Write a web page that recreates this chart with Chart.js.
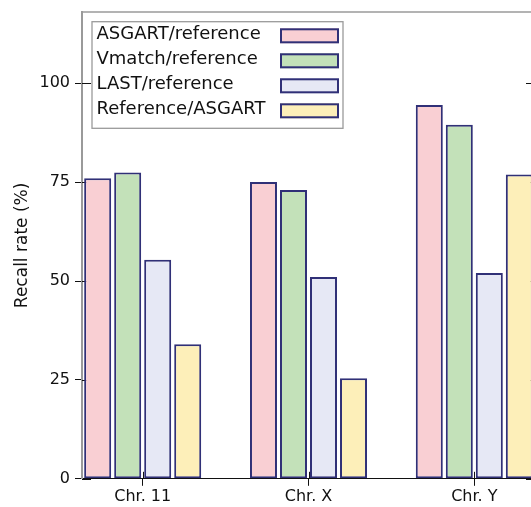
<!DOCTYPE html>
<html>
<head>
<meta charset="utf-8">
<script src="https://cdn.jsdelivr.net/npm/chart.js@4.4.0/dist/chart.umd.min.js"></script>
<style>
  html, body { margin: 0; padding: 0; background: #fff; overflow: hidden; }
  #wrap { width: 560px; height: 507px; }
</style>
</head>
<body>
<div id="wrap"><canvas id="chart" width="560" height="507"></canvas></div>
<script>
// -- Data -----------------------------------------------------------------

const categories = ['Chr. 11', 'Chr. X', 'Chr. Y'];
const seriesNames = ['ASGART/reference', 'Vmatch/reference', 'LAST/reference', 'Reference/ASGART'];
const asgartRef = [76.0, 75.0, 94.5];
const vmatchRef = [77.4, 73.0, 89.5];
const lastRef = [55.4, 51.0, 52.0];
const refAsgart = [34.0, 25.4, 76.9];
const yTicks = [0, 25, 50, 75, 100];

// -- Look -----------------------------------------------------------------

const fills = ['#f9cfd3', '#c3e1b9', '#e6e8f5', '#fdefb9'];
const edge = '#303077';
const frame = '#9a9a9a';
const ink = '#111';

Chart.defaults.font.family = "'DejaVu Sans', sans-serif";
Chart.defaults.color = ink;
Chart.defaults.animation = false;

const seriesValues = [asgartRef, vmatchRef, lastRef, refAsgart];

const datasets = seriesValues.map((vals, i) => ({
  label: seriesNames[i],
  data: vals.map((v, ci) => ({ x: ci, y: v })),
  backgroundColor: fills[i],
  borderColor: edge,
  borderWidth: 2,
  borderSkipped: false,
  categoryPercentage: 0.724,
  barPercentage: 0.9,
}));

// -- Plugins --------------------------------------------------------------

// grey top/right edges of the plot box plus the inward halves of the ticks
const framePlugin = {
  id: 'frame',
  beforeDatasetsDraw(chart) {
    const { ctx, chartArea: a, scales } = chart;
    ctx.save();
    ctx.strokeStyle = frame;
    ctx.lineWidth = 1.5;
    ctx.beginPath();
    ctx.moveTo(a.left, a.top);
    ctx.lineTo(a.right, a.top);
    ctx.lineTo(a.right, a.bottom);
    ctx.stroke();

    ctx.strokeStyle = ink;
    ctx.lineWidth = 1;
    ctx.beginPath();
    scales.y.ticks.forEach((t) => {
      const py = Math.round(scales.y.getPixelForValue(t.value)) + 0.5;
      ctx.moveTo(a.left, py);
      ctx.lineTo(a.left + 9, py);
      ctx.moveTo(a.right, py);
      ctx.lineTo(a.right - 9, py);
    });
    scales.x.ticks.forEach((t) => {
      const px = Math.round(scales.x.getPixelForValue(t.value)) + 0.5;
      ctx.moveTo(px, a.bottom);
      ctx.lineTo(px, a.bottom - 7);
    });
    ctx.stroke();
    ctx.restore();
  },
};

// framed legend: names on the left, swatches in a column on the right
const boxLegend = {
  id: 'boxLegend',
  afterDraw(chart) {
    const { ctx, chartArea: a } = chart;
    const x0 = a.left + 10;
    const y0 = a.top + 9.7;
    const w = 251;
    const h = 106.6;
    ctx.save();
    ctx.fillStyle = '#fff';
    ctx.fillRect(x0, y0, w, h);
    ctx.strokeStyle = frame;
    ctx.lineWidth = 1.3;
    ctx.strokeRect(x0, y0, w, h);

    ctx.font = "18px 'DejaVu Sans', sans-serif";
    ctx.textBaseline = 'middle';
    ctx.textAlign = 'left';
    chart.data.datasets.forEach((ds, i) => {
      const sy = y0 + 6.6 + i * 25;
      ctx.fillStyle = ds.backgroundColor;
      ctx.fillRect(x0 + 188, sy, 59, 15);
      ctx.strokeStyle = edge;
      ctx.lineWidth = 2;
      ctx.strokeRect(x0 + 189, sy + 1, 57, 13);
      ctx.fillStyle = ink;
      ctx.fillText(ds.label, x0 + 4.5, sy + 6);
    });
    ctx.restore();
  },
};

// -- Chart ----------------------------------------------------------------

new Chart(document.getElementById('chart'), {
  type: 'bar',
  data: { datasets },
  options: {
    responsive: false,
    layout: { padding: { top: 12, right: 25, bottom: 0, left: 0 } },
    scales: {
      x: {
        type: 'linear',
        min: -0.366,
        max: 2.366,
        offset: false,
        afterBuildTicks: (s) => { s.ticks = categories.map((_, i) => ({ value: i })); },
        ticks: {
          callback: (v, i) => categories[i],
          padding: 1,
          maxRotation: 0,
          font: { size: 16 },
          color: ink,
        },
        grid: { offset: false, drawOnChartArea: false, tickLength: 7, tickColor: ink, tickWidth: 1 },
        border: { color: ink, width: 1 },
        afterFit: (s) => { s.paddingLeft = 0; s.paddingRight = 0; },
      },
      y: {
        min: 0,
        max: 118,
        afterBuildTicks: (s) => { s.ticks = yTicks.map((v) => ({ value: v })); },
        ticks: { padding: 5, font: { size: 16 }, color: ink },
        grid: { drawOnChartArea: false, tickLength: 7, tickColor: ink, tickWidth: 1 },
        border: { color: frame, width: 2 },
        title: {
          display: true,
          text: 'Recall rate (%)',
          font: { size: 17 },
          color: ink,
          padding: { top: 12, bottom: 0 },
        },
        afterFit: (s) => { s.width = 82; s.paddingTop = 0; s.paddingBottom = 0; },
      },
    },
    plugins: {
      legend: { display: false },
      tooltip: { enabled: false },
    },
  },
  plugins: [framePlugin, boxLegend],
});
</script>
</body>
</html>
